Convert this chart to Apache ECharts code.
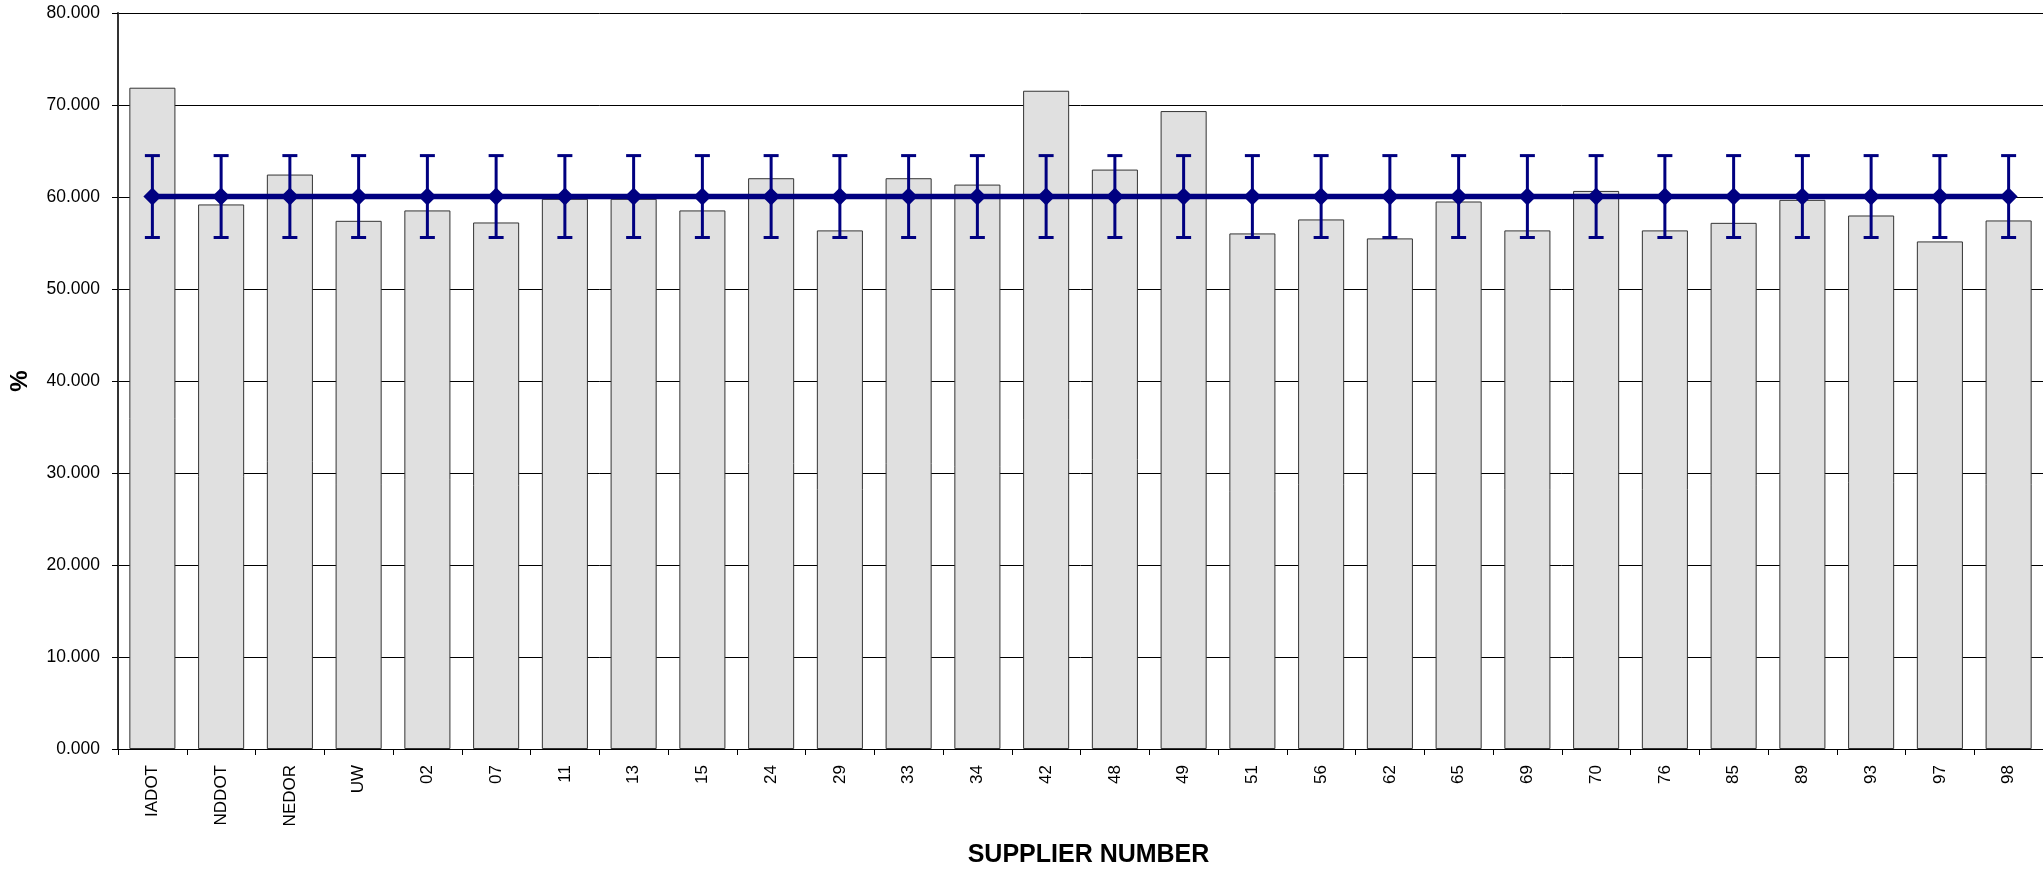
<!DOCTYPE html>
<html>
<head>
<meta charset="utf-8">
<script src="https://cdn.jsdelivr.net/npm/echarts@6/dist/echarts.min.js"></script>
<style>
html,body{margin:0;padding:0;background:#fff;}
#chart{width:2043px;height:873px;}
</style>
</head>
<body>
<div id="chart"></div>
<script>
var categories = ['IADOT','NDDOT','NEDOR','UW','02','07','11','13','15','24','29','33','34','42','48','49','51','56','62','65','69','70','76','85','89','93','97','98'];
var barValues = [71.88,59.19,62.44,57.41,58.54,57.23,59.8,59.8,58.54,62.04,56.37,62.04,61.35,71.55,62.98,69.34,56.04,57.56,55.50,59.51,56.37,60.66,56.37,57.19,59.69,57.99,55.17,57.45];
var meanValues = [60.05,60.05,60.05,60.05,60.05,60.05,60.05,60.05,60.05,60.05,60.05,60.05,60.05,60.05,60.05,60.05,60.05,60.05,60.05,60.05,60.05,60.05,60.05,60.05,60.05,60.05,60.05,60.05];
var errUpper = [64.5,64.5,64.5,64.5,64.5,64.5,64.5,64.5,64.5,64.5,64.5,64.5,64.5,64.5,64.5,64.5,64.5,64.5,64.5,64.5,64.5,64.5,64.5,64.5,64.5,64.5,64.5,64.5];
var errLower = [55.6,55.6,55.6,55.6,55.6,55.6,55.6,55.6,55.6,55.6,55.6,55.6,55.6,55.6,55.6,55.6,55.6,55.6,55.6,55.6,55.6,55.6,55.6,55.6,55.6,55.6,55.6,55.6];
var yTicks = {min: 0, max: 80, interval: 10};

var errData = categories.map(function (c, i) { return [i, errLower[i], errUpper[i]]; });

var chart = echarts.init(document.getElementById('chart'), null, {renderer: 'canvas'});
var font = 'Arial, "Liberation Sans", Helvetica, sans-serif';
chart.setOption({
  animation: false,
  backgroundColor: '#ffffff',
  grid: {left: 118, top: 13, width: 1927, height: 738, containLabel: false},
  xAxis: {
    type: 'category',
    data: categories,
    boundaryGap: true,
    name: 'SUPPLIER NUMBER',
    nameLocation: 'middle',
    nameGap: 94,
    nameTextStyle: {fontFamily: font, fontSize: 25, fontWeight: 'bold', color: '#000', padding: [0, 0, 0, 16]},
    axisLine: {lineStyle: {color: '#000', width: 1}},
    axisTick: {show: true, alignWithLabel: false, length: 6, lineStyle: {color: '#000'}},
    axisLabel: {rotate: 90, margin: 16, fontFamily: font, fontSize: 17, color: '#000', interval: 0},
    splitLine: {show: false}
  },
  yAxis: {
    type: 'value',
    min: yTicks.min, max: yTicks.max, interval: yTicks.interval,
    name: '%',
    nameLocation: 'middle',
    nameGap: 86,
    nameRotate: 90,
    nameTextStyle: {fontFamily: font, fontSize: 24, fontWeight: 'bold', color: '#000'},
    axisLine: {show: true, lineStyle: {color: '#333', width: 2}},
    axisTick: {show: true, length: 6, lineStyle: {color: '#000'}},
    axisLabel: {margin: 18, fontFamily: font, fontSize: 17.5, color: '#000',
      formatter: function (v) { return v.toFixed(3); }},
    splitLine: {show: true, lineStyle: {color: '#000', width: 1}}
  },
  series: [
    {
      type: 'bar',
      data: barValues,
      barWidth: '67%',
      itemStyle: {color: '#e0e0e0', borderColor: '#333', borderWidth: 1},
      z: 2
    },
    {
      type: 'line',
      data: meanValues,
      symbol: 'diamond',
      symbolSize: 18,
      lineStyle: {color: '#000080', width: 5.5},
      itemStyle: {color: '#000080'},
      z: 4
    },
    {
      type: 'custom',
      data: errData,
      z: 5,
      renderItem: function (params, api) {
        var x = api.value(0);
        var lo = api.coord([x, api.value(1)]);
        var hi = api.coord([x, api.value(2)]);
        var hw = 7.5;
        var st = {stroke: '#000080', lineWidth: 3};
        return {
          type: 'group',
          children: [
            {type: 'line', shape: {x1: hi[0], y1: hi[1], x2: lo[0], y2: lo[1]}, style: st},
            {type: 'line', shape: {x1: hi[0] - hw, y1: hi[1], x2: hi[0] + hw, y2: hi[1]}, style: st},
            {type: 'line', shape: {x1: lo[0] - hw, y1: lo[1], x2: lo[0] + hw, y2: lo[1]}, style: st}
          ]
        };
      }
    }
  ]
});
</script>
</body>
</html>
